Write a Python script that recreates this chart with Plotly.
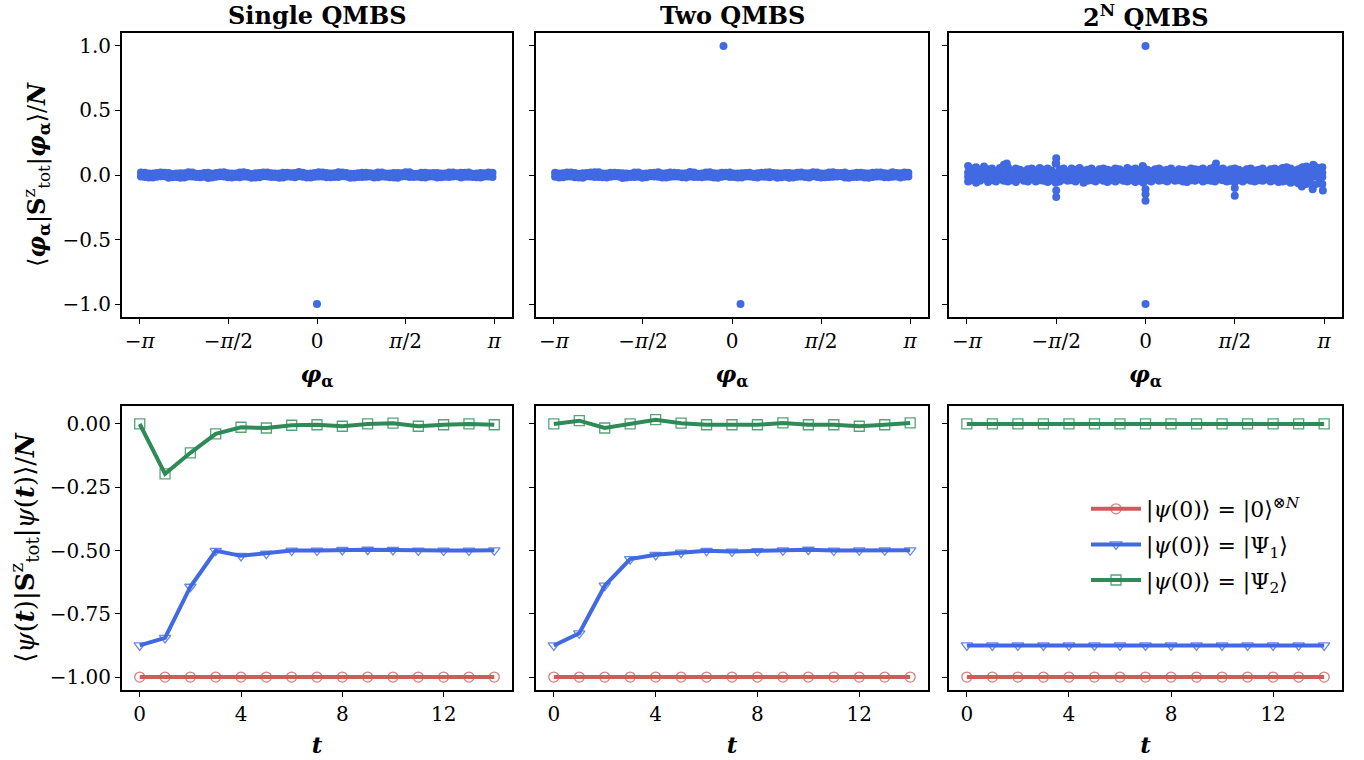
import plotly.graph_objects as go

# ---------------- data ----------------
phase_x = [-3.12, -3.05, -2.98, -2.91, -2.84, -2.77, -2.70, -2.63, -2.56, -2.49,
           -2.42, -2.35, -2.28, -2.21, -2.14, -2.07, -2.00, -1.93, -1.86, -1.79,
           -1.72, -1.65, -1.58, -1.51, -1.44, -1.37, -1.30, -1.23, -1.16, -1.09,
           -1.02, -0.95, -0.88, -0.81, -0.74, -0.67, -0.60, -0.53, -0.46, -0.39,
           -0.32, -0.25, -0.18, -0.11, -0.04, 0.03, 0.10, 0.17, 0.24, 0.31,
           0.38, 0.45, 0.52, 0.59, 0.66, 0.73, 0.80, 0.87, 0.94, 1.01,
           1.08, 1.15, 1.22, 1.29, 1.36, 1.43, 1.50, 1.57, 1.64, 1.71,
           1.78, 1.85, 1.92, 1.99, 2.06, 2.13, 2.20, 2.27, 2.34, 2.41,
           2.48, 2.55, 2.62, 2.69, 2.76, 2.83, 2.90, 2.97, 3.04, 3.11]

single_y = [0.02, -0.015, 0.012, -0.02, 0.016, -0.01, 0.018, -0.022, 0.008, -0.016,
            0.013, -0.02, 0.021, -0.012, 0.01, -0.018, 0.016, -0.024, 0.009, -0.014,
            0.019, -0.011, 0.014, -0.02, 0.012, -0.017, 0.022, -0.013, 0.008, -0.019,
            0.015, -0.01, 0.02, -0.016, 0.011, -0.021, 0.017, -0.012, 0.013, -0.018,
            0.024, -0.014, 0.01, -0.02, 0.016, -0.011, 0.019, -0.017, 0.012, -0.015,
            0.021, -0.01, 0.015, -0.022, 0.009, -0.016, 0.018, -0.013, 0.014, -0.019,
            0.02, -0.012, 0.011, -0.017, 0.016, -0.021, 0.013, -0.01, 0.022, -0.015,
            0.01, -0.018, 0.017, -0.012, 0.015, -0.02, 0.012, -0.014, 0.019, -0.011,
            0.014, -0.02, 0.018, -0.013, 0.01, -0.017, 0.016, -0.012, 0.02, -0.015]

single_y2 = [-0.012, 0.017, -0.019, 0.011, -0.014, 0.02, -0.01, 0.015, -0.018, 0.012,
             -0.021, 0.014, -0.011, 0.019, -0.016, 0.01, -0.013, 0.018, -0.02, 0.015,
             -0.01, 0.021, -0.017, 0.012, -0.015, 0.019, -0.011, 0.016, -0.022, 0.013,
             -0.018, 0.02, -0.012, 0.014, -0.016, 0.011, -0.02, 0.018, -0.013, 0.015,
             -0.01, 0.017, -0.019, 0.012, -0.014, 0.021, -0.011, 0.016, -0.018, 0.013,
             -0.015, 0.019, -0.012, 0.01, -0.02, 0.014, -0.016, 0.018, -0.011, 0.012,
             -0.017, 0.02, -0.014, 0.011, -0.019, 0.015, -0.012, 0.021, -0.016, 0.01,
             -0.013, 0.018, -0.02, 0.014, -0.011, 0.016, -0.018, 0.012, -0.015, 0.019,
             -0.01, 0.017, -0.013, 0.02, -0.016, 0.011, -0.019, 0.014, -0.012, 0.018]

two_y = [0.018, -0.02, 0.014, -0.012, 0.02, -0.017, 0.01, -0.021, 0.016, -0.011,
         0.022, -0.015, 0.012, -0.019, 0.017, -0.01, 0.015, -0.023, 0.011, -0.016,
         0.02, -0.013, 0.009, -0.018, 0.016, -0.012, 0.021, -0.02, 0.013, -0.014,
         0.018, -0.011, 0.012, -0.02, 0.023, -0.015, 0.01, -0.017, 0.019, -0.013,
         0.014, -0.021, 0.017, -0.01, 0.02, -0.016, 0.012, -0.019, 0.015, -0.012,
         0.01, -0.02, 0.018, -0.014, 0.022, -0.011, 0.013, -0.018, 0.016, -0.021,
         0.011, -0.013, 0.02, -0.016, 0.014, -0.01, 0.019, -0.02, 0.012, -0.015,
         0.021, -0.012, 0.015, -0.019, 0.01, -0.016, 0.018, -0.013, 0.013, -0.022,
         0.017, -0.011, 0.02, -0.018, 0.012, -0.014, 0.015, -0.02, 0.019, -0.012]

two_y2 = [-0.014, 0.012, -0.018, 0.02, -0.011, 0.016, -0.02, 0.013, -0.01, 0.019,
          -0.015, 0.021, -0.017, 0.011, -0.013, 0.018, -0.012, 0.014, -0.02, 0.01,
          -0.016, 0.019, -0.021, 0.012, -0.01, 0.017, -0.014, 0.011, -0.019, 0.02,
          -0.012, 0.015, -0.018, 0.013, -0.011, 0.02, -0.016, 0.012, -0.014, 0.021,
          -0.019, 0.011, -0.013, 0.017, -0.015, 0.012, -0.02, 0.014, -0.011, 0.018,
          -0.016, 0.013, -0.012, 0.02, -0.018, 0.015, -0.021, 0.011, -0.014, 0.016,
          -0.02, 0.017, -0.011, 0.013, -0.019, 0.021, -0.015, 0.012, -0.017, 0.02,
          -0.013, 0.016, -0.01, 0.019, -0.021, 0.012, -0.015, 0.018, -0.019, 0.011,
          -0.016, 0.02, -0.012, 0.014, -0.018, 0.021, -0.011, 0.013, -0.014, 0.017]

big_hi = [0.07, 0.05, 0.06, 0.04, 0.065, 0.045, 0.05, 0.03, 0.055, 0.08,
          0.06, 0.035, 0.05, 0.04, 0.03, 0.045, 0.05, 0.035, 0.055, 0.04,
          0.05, 0.035, 0.09, 0.045, 0.05, 0.03, 0.05, 0.04, 0.055, 0.035,
          0.04, 0.05, 0.03, 0.045, 0.05, 0.04, 0.035, 0.05, 0.045, 0.03,
          0.055, 0.04, 0.05, 0.035, 0.06, 0.04, 0.03, 0.045, 0.05, 0.035,
          0.04, 0.05, 0.03, 0.045, 0.04, 0.035, 0.05, 0.045, 0.04, 0.05,
          0.035, 0.05, 0.065, 0.04, 0.05, 0.035, 0.045, 0.05, 0.04, 0.03,
          0.045, 0.05, 0.035, 0.04, 0.05, 0.03, 0.045, 0.05, 0.04, 0.055,
          0.06, 0.05, 0.035, 0.045, 0.06, 0.065, 0.05, 0.07, 0.055, 0.06]

big_lo = [-0.05, -0.04, -0.06, -0.045, -0.03, -0.055, -0.04, -0.05, -0.035, -0.045,
          -0.05, -0.04, -0.055, -0.03, -0.045, -0.05, -0.035, -0.05, -0.04, -0.045,
          -0.055, -0.04, -0.06, -0.05, -0.035, -0.045, -0.04, -0.05, -0.03, -0.06,
          -0.045, -0.04, -0.05, -0.035, -0.045, -0.055, -0.04, -0.05, -0.035, -0.045,
          -0.05, -0.04, -0.055, -0.045, -0.06, -0.04, -0.05, -0.035, -0.045, -0.04,
          -0.05, -0.035, -0.045, -0.04, -0.05, -0.055, -0.04, -0.045, -0.035, -0.05,
          -0.04, -0.045, -0.05, -0.035, -0.04, -0.05, -0.045, -0.055, -0.04, -0.05,
          -0.035, -0.045, -0.05, -0.04, -0.045, -0.035, -0.05, -0.04, -0.055, -0.05,
          -0.045, -0.06, -0.05, -0.065, -0.055, -0.07, -0.06, -0.075, -0.065, -0.07]

spike_x = [-1.57, -1.57, -1.57, -1.57, 0.0, 0.0, 0.0, 1.57, 1.57, 2.94, 3.12, -2.44, 1.24, 2.95, -0.05, 2.75]
spike_y = [0.13, -0.12, -0.17, 0.09, -0.20, -0.15, -0.11, -0.16, -0.10, -0.11, -0.12, 0.09, 0.09, 0.08, 0.07, -0.09]

single_out_x = [0.0]
single_out_y = [-1.0]
two_out_x = [-0.15, 0.15]
two_out_y = [1.0, -1.0]
big_out_x = [0.0, 0.0]
big_out_y = [1.0, -1.0]

t_vals = [0, 1, 2, 3, 4, 5, 6, 7, 8, 9, 10, 11, 12, 13, 14]

single_red = [-1.0] * 15
single_blue = [-0.875, -0.845, -0.643, -0.501, -0.521, -0.512, -0.50, -0.50, -0.498, -0.497,
               -0.498, -0.50, -0.50, -0.50, -0.499]
single_green = [0.0, -0.197, -0.114, -0.039, -0.013, -0.016, -0.005, -0.003, -0.009, 0.0,
                0.003, -0.009, -0.003, 0.0, -0.003]

two_red = [-1.0] * 15
two_blue = [-0.875, -0.827, -0.639, -0.534, -0.517, -0.508, -0.501, -0.504, -0.502, -0.499,
            -0.497, -0.50, -0.499, -0.499, -0.499]
two_green = [0.0, 0.013, -0.016, 0.0, 0.017, 0.003, -0.003, -0.003, -0.003, 0.004,
             -0.003, -0.003, -0.009, -0.003, 0.004]

big_red = [-1.0] * 15
big_blue = [-0.875] * 15
big_green = [0.0] * 15

titles = ["Single QMBS", "Two QMBS", "2<sup>N</sup> QMBS"]
phase_tickvals = [-3.14159, -1.5708, 0, 1.5708, 3.14159]
phase_ticktext = ["−<i>π</i>", "−<i>π</i>/2", "0", "<i>π</i>/2", "<i>π</i>"]
top_tickvals = [-1.0, -0.5, 0.0, 0.5, 1.0]
top_ticktext = ["−1.0", "−0.5", "0.0", "0.5", "1.0"]
bot_tickvals = [-1.0, -0.75, -0.5, -0.25, 0.0]
bot_ticktext = ["−1.00", "−0.75", "−0.50", "−0.25", "0.00"]
t_tickvals = [0, 4, 8, 12]

legend_names = ["|<i>ψ</i>(0)⟩ = |0⟩<sup>⊗<i>N</i></sup>",
                "|<i>ψ</i>(0)⟩ = |Ψ<sub>1</sub>⟩",
                "|<i>ψ</i>(0)⟩ = |Ψ<sub>2</sub>⟩"]

# ---------------- styles ----------------
W, H = 1364, 760
FONT = "DejaVu Serif"
DOT = "#4169E1"
RED, BLUE, GREEN = "#CD5C5C", "#4169E1", "#2E8B57"
RED_M, BLUE_M, GREEN_M = "rgba(205,92,92,0.8)", "rgba(65,105,225,0.8)", "rgba(46,139,87,0.8)"


def px(x):
    return x / W


def py(y):
    return 1 - y / H


xdom = [(px(122), px(512)), (px(536), px(928)), (px(949), px(1342))]
ydom_top = (py(317), py(33))
ydom_bot = (py(690), py(406))

fig = go.Figure()


def scat(x, y, xa, ya):
    fig.add_trace(go.Scatter(x=x, y=y, mode="markers", xaxis=xa, yaxis=ya, showlegend=False,
                             marker=dict(color=DOT, size=8, line=dict(width=0)), hoverinfo="skip"))


# top row
scat(phase_x, single_y, "x", "y")
scat(phase_x, single_y2, "x", "y")
scat(single_out_x, single_out_y, "x", "y")
scat(phase_x, two_y, "x2", "y2")
scat(phase_x, two_y2, "x2", "y2")
scat(two_out_x, two_out_y, "x2", "y2")
scat(phase_x, big_hi, "x3", "y3")
scat(phase_x, big_lo, "x3", "y3")
scat(phase_x, single_y, "x3", "y3")
scat(phase_x, two_y2, "x3", "y3")
scat(spike_x, spike_y, "x3", "y3")
scat(big_out_x, big_out_y, "x3", "y3")

# bottom row
series = [
    ("x4", "y4", single_red, single_blue, single_green),
    ("x5", "y5", two_red, two_blue, two_green),
    ("x6", "y6", big_red, big_blue, big_green),
]
for i, (xa, ya, r, b, g) in enumerate(series):
    show = (i == 2)
    for k, (vals, col, mcol, sym, name) in enumerate([
        (r, RED, RED_M, "circle-open", legend_names[0]),
        (b, BLUE, BLUE_M, "triangle-down-open", legend_names[1]),
        (g, GREEN, GREEN_M, "square-open", legend_names[2]),
    ]):
        fig.add_trace(go.Scatter(x=t_vals, y=vals, mode="lines+markers", xaxis=xa, yaxis=ya,
                                 name=name, showlegend=show, legendgroup="g%d" % k,
                                 line=dict(color=col, width=4),
                                 marker=dict(symbol=sym, size=10, color=mcol,
                                             line=dict(width=1.3, color=mcol))))

axis_common = dict(showline=True, linecolor="black", linewidth=2, mirror=True, ticks="outside",
                   ticklen=5, tickwidth=1.2, tickcolor="black", showgrid=False, zeroline=False,
                   tickfont=dict(family=FONT, size=20, color="black"), automargin=False)

layout = dict(width=W, height=H, margin=dict(l=0, r=0, t=0, b=0),
              plot_bgcolor="white", paper_bgcolor="white",
              font=dict(family=FONT, color="black"))

top_ytitle = ("⟨<b><i>φ</i><sub>α</sub></b>|<b>S</b><sup>z</sup><sub>tot</sub>|"
              "<b><i>φ</i><sub>α</sub></b>⟩/<b><i>N</i></b>")
bot_ytitle = ("⟨<i>ψ</i>(<b><i>t</i></b>)|<b>S</b><sup>z</sup><sub>tot</sub>|"
              "<i>ψ</i>(<b><i>t</i></b>)⟩/<b><i>N</i></b>")

for i in range(3):
    n = "" if i == 0 else str(i + 1)
    first = (i == 0)
    layout["xaxis" + n] = dict(axis_common, domain=xdom[i], anchor="y" + n, range=[-3.456, 3.456],
                               tickvals=phase_tickvals, ticktext=phase_ticktext,
                               title=dict(text="<b><i>φ</i><sub>α</sub></b>", font=dict(size=23), standoff=14))
    ya = dict(axis_common, domain=ydom_top, anchor="x" + n, range=[-1.1, 1.1],
              tickvals=top_tickvals, showticklabels=first)
    if first:
        ya["ticktext"] = top_ticktext
        ya["title"] = dict(text=top_ytitle, font=dict(size=24), standoff=10)
    layout["yaxis" + n] = ya

    m = str(i + 4)
    layout["xaxis" + m] = dict(axis_common, domain=xdom[i], anchor="y" + m, range=[-0.7, 14.7],
                               tickvals=t_tickvals,
                               title=dict(text="<b><i>t</i></b>", font=dict(size=23), standoff=12))
    yb = dict(axis_common, domain=ydom_bot, anchor="x" + m, range=[-1.051, 0.071],
              tickvals=bot_tickvals, showticklabels=first)
    if first:
        yb["ticktext"] = bot_ticktext
        yb["title"] = dict(text=bot_ytitle, font=dict(size=26), standoff=8)
    layout["yaxis" + m] = yb

annotations = []
for i in range(3):
    annotations.append(dict(text="<b>" + titles[i] + "</b>", x=(xdom[i][0] + xdom[i][1]) / 2,
                            y=py(16), xref="paper", yref="paper", xanchor="center", yanchor="middle",
                            showarrow=False, font=dict(family=FONT, size=24, color="black")))
layout["annotations"] = annotations
layout["legend"] = dict(x=px(1086), y=py(488), xanchor="left", yanchor="top",
                        bgcolor="rgba(0,0,0,0)", borderwidth=0, tracegroupgap=4,
                        font=dict(family=FONT, size=22, color="black"), itemwidth=50)

fig.update_layout(**layout)
fig.write_html("out.html", config={"displayModeBar": False},
               post_script="document.body.style.margin='0';document.body.style.overflow='hidden';")
